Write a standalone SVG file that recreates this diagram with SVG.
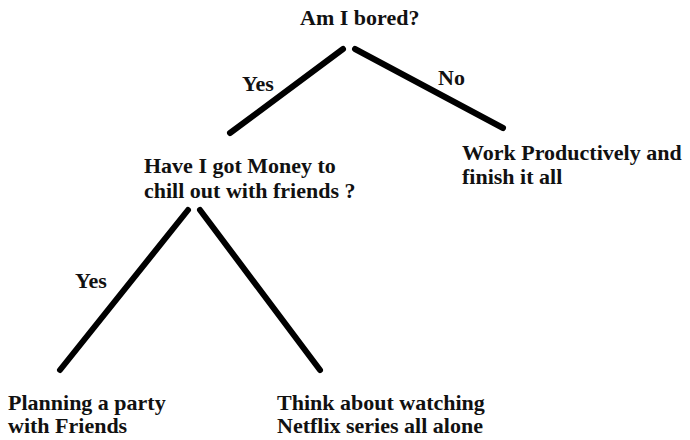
<svg xmlns="http://www.w3.org/2000/svg" width="690" height="440" viewBox="0 0 690 440">
  <style>
    .lbl { font-family: "Liberation Serif", "Times New Roman", serif; font-weight: bold; font-size: 22px; fill: #111; }
    .edge { stroke: #000; stroke-width: 6; stroke-linecap: round; fill: none; }
  </style>
  <rect width="690" height="440" fill="#fff"/>

  <g id="connectors">
    <line class="edge" x1="343" y1="49" x2="230" y2="133"/>
    <line class="edge" x1="355" y1="49" x2="503" y2="128"/>
    <line class="edge" x1="188" y1="210" x2="60" y2="370"/>
    <line class="edge" x1="200" y1="210" x2="320" y2="370"/>
    <text class="lbl" x="242" y="91">Yes</text>
    <text class="lbl" x="438" y="85">No</text>
    <text class="lbl" x="75" y="288">Yes</text>
  </g>

  <g id="bored">
    <text class="lbl" x="300" y="25">Am I bored?</text>
  </g>

  <g id="money">
    <text class="lbl" x="144" y="173">Have I got Money to</text>
    <text class="lbl" x="144" y="198">chill out with friends ?</text>
  </g>

  <g id="work">
    <text class="lbl" x="462" y="160">Work Productively and</text>
    <text class="lbl" x="462" y="184">finish it all</text>
  </g>

  <g id="party">
    <text class="lbl" x="8" y="410">Planning a party</text>
    <text class="lbl" x="8" y="433">with Friends</text>
  </g>

  <g id="netflix">
    <text class="lbl" x="277" y="410">Think about watching</text>
    <text class="lbl" x="277" y="433">Netflix series all alone</text>
  </g>
</svg>
